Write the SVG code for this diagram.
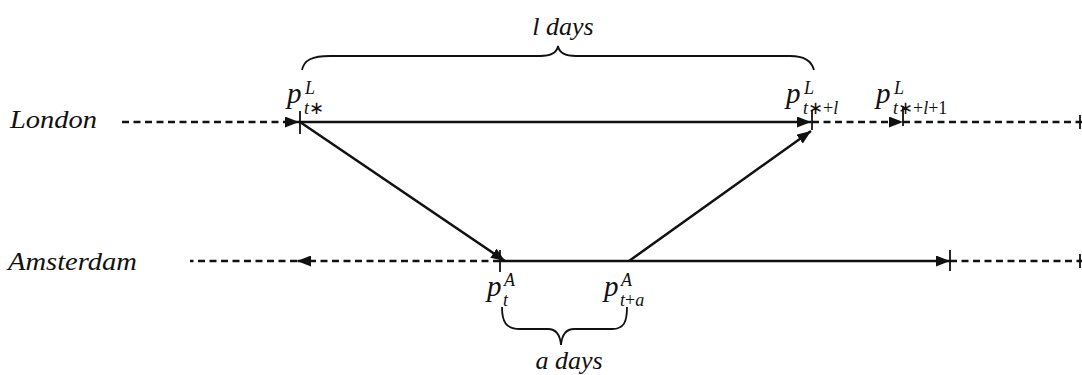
<svg xmlns="http://www.w3.org/2000/svg" width="1082" height="375" viewBox="0 0 1082 375">
<style>
.lbl{font-family:"Liberation Serif",serif;font-style:italic;font-size:26px;fill:#111}
.m{font-family:"Liberation Serif",serif;font-style:italic;font-size:29px;fill:#111}
.s{font-family:"Liberation Serif",serif;font-style:italic;font-size:18px;fill:#111}
.u{font-style:normal}
.ln{stroke:#111;stroke-width:2.5;fill:none}
.d{stroke-dasharray:7 4.5}
.tk{stroke:#111;stroke-width:1.8}
.br{stroke:#111;stroke-width:1.8;fill:none}
</style>
<defs>
<marker id="ah" viewBox="0 0 14 11" refX="14" refY="5.5" markerWidth="14" markerHeight="11" markerUnits="userSpaceOnUse" orient="auto">
<path d="M0,0 L14,5.5 L0,11 z" fill="#111"/>
</marker>
</defs>
<g id="labels">
<text class="lbl" x="10" y="128" textLength="87" lengthAdjust="spacingAndGlyphs">London</text>
<text class="lbl" x="8" y="270" textLength="129" lengthAdjust="spacingAndGlyphs">Amsterdam</text>
</g>
<g id="connectors">
<line class="ln d" x1="122" y1="122" x2="299" y2="122" marker-end="url(#ah)"/>
<line class="ln" x1="299" y1="122" x2="811" y2="122" marker-end="url(#ah)"/>
<line class="ln d" x1="812" y1="122" x2="903" y2="122" marker-end="url(#ah)"/>
<line class="ln d" x1="903" y1="122" x2="1082" y2="122"/>
<line class="ln d" x1="500" y1="261" x2="297" y2="261" marker-end="url(#ah)"/>
<line class="ln d" x1="297" y1="261" x2="190" y2="261"/>
<line class="ln" x1="500" y1="261" x2="950" y2="261" marker-end="url(#ah)"/>
<line class="ln d" x1="950" y1="261" x2="1082" y2="261"/>
<line class="ln" x1="300" y1="122" x2="505" y2="261" marker-end="url(#ah)"/>
<line class="ln" x1="629" y1="261" x2="811" y2="131" marker-end="url(#ah)"/>
<line class="tk" x1="300" y1="111" x2="300" y2="134"/>
<line class="tk" x1="812" y1="110" x2="812" y2="130"/>
<line class="tk" x1="903" y1="106" x2="903" y2="126"/>
<line class="tk" x1="1080" y1="115" x2="1080" y2="129"/>
<line class="tk" x1="500" y1="250" x2="500" y2="272"/>
<line class="tk" x1="950" y1="250" x2="950" y2="271"/>
<line class="tk" x1="1080" y1="254" x2="1080" y2="268"/>
</g>
<g id="brace-l">
<path class="br" d="M302,70 C304,60 312,56 330,56 L540,56 C552,56 557,52 558,46 C559,52 564,56 576,56 L790,56 C806,56 812,62 814,70"/>
<text class="lbl" x="563" y="35" text-anchor="middle">l days</text>
</g>
<g id="brace-a">
<path class="br" d="M502,307 C502,322 506,329 520,329 L548,329 C556,329 560,334 561,345 C562,334 566,329 574,329 L612,329 C624,329 627,322 627,307"/>
<text class="lbl" x="569" y="369" text-anchor="middle">a days</text>
</g>
<g id="p-tstar-L">
<text class="m" x="287" y="103">p</text>
<text class="s" x="305" y="94">L</text>
<text class="s" x="304" y="114">t<tspan class="u">∗</tspan></text>
</g>
<g id="p-tstar-l-L">
<text class="m" x="786" y="103">p</text>
<text class="s" x="804" y="94">L</text>
<text class="s" x="803" y="114">t<tspan class="u">∗+</tspan>l</text>
</g>
<g id="p-tstar-l1-L">
<text class="m" x="876" y="103">p</text>
<text class="s" x="894" y="94">L</text>
<text class="s" x="893" y="114">t<tspan class="u">∗+</tspan>l<tspan class="u">+1</tspan></text>
</g>
<g id="p-t-A">
<text class="m" x="487" y="296">p</text>
<text class="s" x="504" y="286">A</text>
<text class="s" x="503" y="306">t</text>
</g>
<g id="p-ta-A">
<text class="m" x="604" y="296">p</text>
<text class="s" x="621" y="286">A</text>
<text class="s" x="620" y="306">t<tspan class="u">+</tspan>a</text>
</g>
</svg>
